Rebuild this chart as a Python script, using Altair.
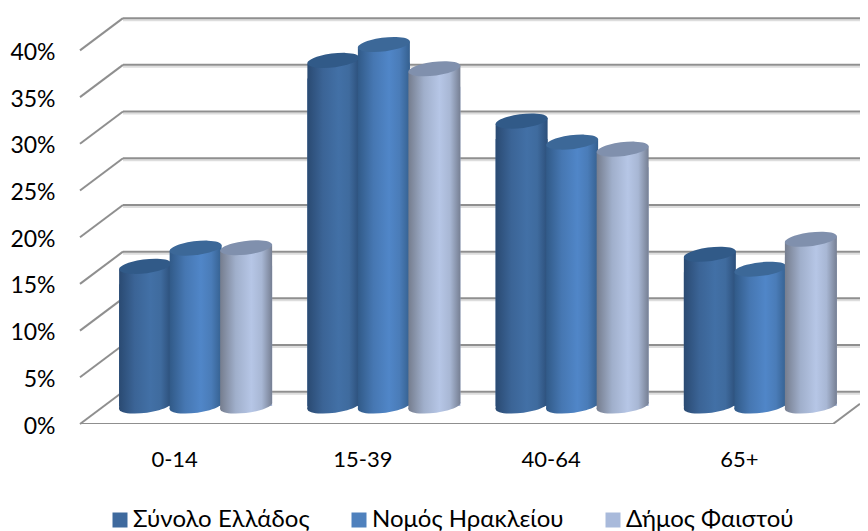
import altair as alt
import pandas as pd

CATEGORIES = ["0-14", "15-39", "40-64", "65+"]
SERIES = ["Σύνολο Ελλάδος", "Νομός Ηρακλείου", "Δήμος Φαιστού"]
S1 = [0.1495, 0.370, 0.305, 0.1625]
S2 = [0.169, 0.387, 0.2825, 0.1465]
S3 = [0.1695, 0.361, 0.275, 0.1785]
VALUES = [S1, S2, S3]
LEGEND_COLORS = ["#3F6A9E", "#4F81BD", "#A9BADB"]
CAP_COLORS = ["#315A88", "#3C6898", "#8090AD"]
BODY_STOPS = [
    ["#2A4A72", "#3B6496", "#4270A6", "#3F6B9E", "#2C4F7A"],
    ["#315A88", "#4677B2", "#5086C8", "#4A7CB8", "#35608F"],
    ["#757D8E", "#A0AFCB", "#B6C6E6", "#A8B7D4", "#767F93"],
]
TICKS = [0, 0.05, 0.10, 0.15, 0.20, 0.25, 0.30, 0.35, 0.40]

# oblique projection, in data units
DEPTH_X = 0.2284
DEPTH_Y = 0.0345
BASE_Y = 0.01927
BAR_STEP = 0.2683
BAR_W = 0.2762
XMAX = 780 / 188.25
YMAX = 0.4368
FONT = "Lato"

x_scale = alt.Scale(domain=[0, XMAX], nice=False, zero=False)
y_scale = alt.Scale(domain=[0, YMAX], nice=False)

rows = []
for s, name in enumerate(SERIES):
    for c, cat in enumerate(CATEGORIES):
        mid = c + 0.5 + DEPTH_X / 2 + (s - 1) * BAR_STEP
        rows.append({"series": name, "s": s, "cat": cat, "left": mid - BAR_W / 2, "right": mid + BAR_W / 2,
                     "mid": mid, "value": VALUES[s][c], "top": VALUES[s][c] + BASE_Y, "base": BASE_Y})
bars = pd.DataFrame(rows)

label_expr = "[" + ",".join(f"'{c}'" for c in CATEGORIES) + "][floor(datum.value)]"
X_AXIS = alt.Axis(values=[0.5, 1.5, 2.5, 3.5], labelExpr=label_expr, grid=False, domain=False, ticks=False, title=None,
                  labelPadding=25, labelFontSize=22, labelFont=FONT, labelColor="#000000")
Y_AXIS = alt.Axis(values=TICKS, format=".0%", grid=False, domain=False, ticks=False, title=None,
                  labelPadding=25, labelOffset=2, labelFontSize=23, labelFont=FONT, labelColor="#000000")
X = alt.X("x:Q", scale=x_scale, axis=X_AXIS)
Y = alt.Y("y:Q", scale=y_scale, axis=Y_AXIS)

# back wall lines, side wall diagonals and floor edge
back = pd.DataFrame({"x": DEPTH_X, "x2": XMAX, "y": [t + DEPTH_Y for t in TICKS]})
diag = pd.DataFrame({"x": 0.0, "x2": DEPTH_X, "y": TICKS, "y2": [t + DEPTH_Y for t in TICKS]})
floor = pd.DataFrame({"x": [0.0, 4.0], "x2": [4.0, XMAX], "y": [0.0, 0.0],
                      "y2": [0.0, DEPTH_Y * (XMAX - 4.0) / DEPTH_X]})
GRID = "#8F8F8F"
GRID_SHADE = "#DDDDDD"
shade = alt.Chart(back).mark_rule(color=GRID_SHADE, strokeWidth=2, yOffset=2, clip=True).encode(x=X, x2="x2:Q", y=Y)
lines = alt.Chart(back).mark_rule(color=GRID, strokeWidth=2, clip=True).encode(x=X, x2="x2:Q", y=Y)
dlines = alt.Chart(diag).mark_rule(color=GRID, strokeWidth=2).encode(x=X, x2="x2:Q", y=Y, y2="y2:Q")
flines = alt.Chart(floor).mark_rule(color=GRID, strokeWidth=2, clip=True).encode(x=X, x2="x2:Q", y=Y, y2="y2:Q")

# legend carrying layer, hidden under the cylinders
legend_layer = alt.Chart(bars).mark_bar(clip=False).encode(
    x=alt.X("left:Q", scale=x_scale, axis=X_AXIS), x2="right:Q",
    y=alt.Y("base:Q", scale=y_scale, axis=Y_AXIS), y2="value:Q",
    color=alt.Color("series:N", scale=alt.Scale(domain=SERIES, range=LEGEND_COLORS), legend=alt.Legend(
        orient="none", direction="horizontal", columns=3, title=None, symbolType="square", symbolSize=225,
        symbolStrokeWidth=0, labelFont=FONT, labelFontSize=24, labelColor="#000000", columnPadding=37,
        labelLimit=300, labelOffset=1, legendX=28, legendY=492)))

ELLIPSE = "M-0.9925,0.122 A1,0.26,-7,1,1,0.9925,-0.122 A1,0.26,-7,1,1,-0.9925,0.122 Z"
TILT = 0.0032
layers = [shade, lines, dlines, flines, legend_layer]
for s, name in enumerate(SERIES):
    d = bars[bars.s == s]
    gradient = alt.Gradient(gradient="linear", x1=0, x2=1, y1=0, y2=0, stops=[
        alt.GradientStop(color=BODY_STOPS[s][0], offset=0),
        alt.GradientStop(color=BODY_STOPS[s][1], offset=0.3),
        alt.GradientStop(color=BODY_STOPS[s][2], offset=0.6),
        alt.GradientStop(color=BODY_STOPS[s][3], offset=0.8),
        alt.GradientStop(color=BODY_STOPS[s][4], offset=1),
    ])
    area_rows = []
    for _, r in d.iterrows():
        area_rows.append({"cat": r["cat"], "x": r["left"], "y": r["top"] - TILT, "y2": r["base"] - TILT})
        area_rows.append({"cat": r["cat"], "x": r["right"], "y": r["top"] + TILT, "y2": r["base"] + TILT})
    body = alt.Chart(pd.DataFrame(area_rows)).mark_area(fill=gradient, line=False).encode(
        x=X, y=Y, y2="y2:Q", detail="cat:N")
    bottom = alt.Chart(d).mark_point(shape=ELLIPSE, size=2740, fill=gradient, filled=True, opacity=1, strokeWidth=0).encode(
        x=alt.X("mid:Q", scale=x_scale, axis=X_AXIS), y=alt.Y("base:Q", scale=y_scale, axis=Y_AXIS))
    cap = alt.Chart(d).mark_point(shape=ELLIPSE, size=2740, fill=CAP_COLORS[s], filled=True, opacity=1, strokeWidth=0).encode(
        x=alt.X("mid:Q", scale=x_scale, axis=X_AXIS), y=alt.Y("top:Q", scale=y_scale, axis=Y_AXIS))
    layers += [bottom, body, cap]

chart = alt.layer(*layers).resolve_scale(color="independent").properties(
    width=780, height=408,
    autosize=alt.AutoSizeParams(type="none"),
    padding={"left": 72, "top": 8, "right": 0, "bottom": 109},
    background="#FFFFFF",
).configure_view(stroke=None)

chart.save("out.html", embed_options={"renderer": "svg", "actions": False})
